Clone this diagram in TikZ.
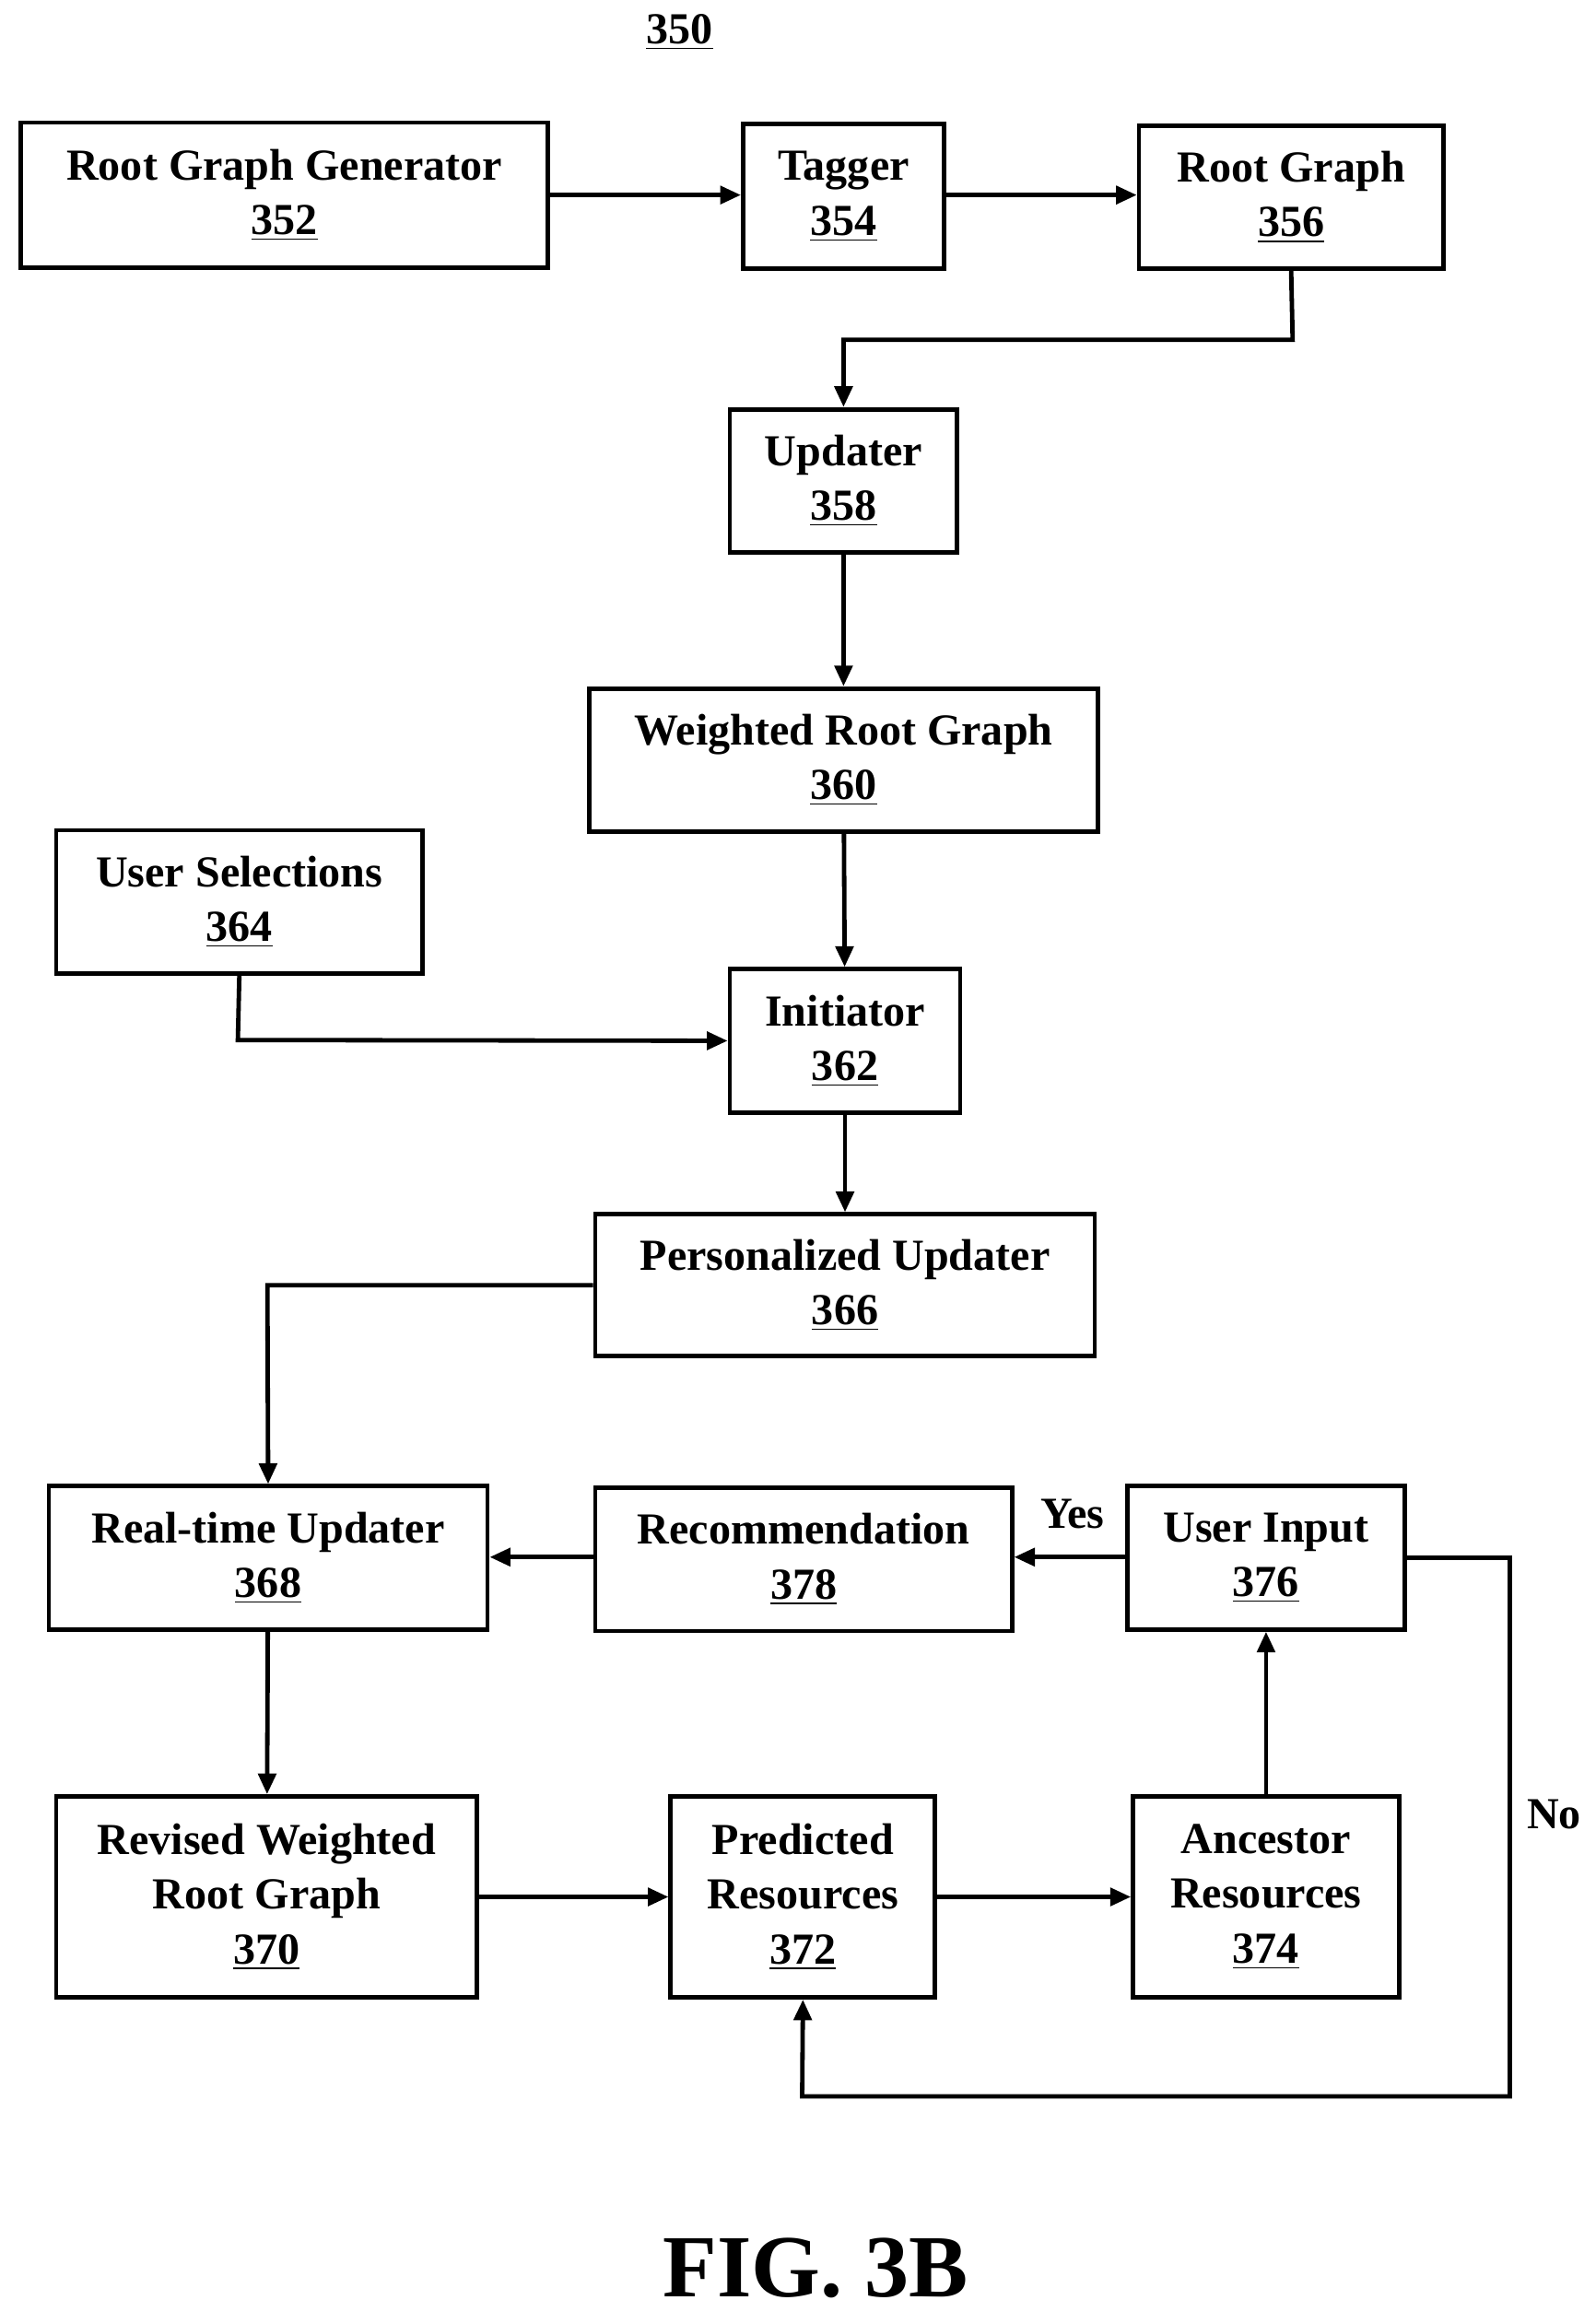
\documentclass[tikz,border=0pt]{standalone}
\usepackage{fontspec}
\setmainfont{Liberation Serif}
\usetikzlibrary{arrows.meta}
\begin{document}
\begin{tikzpicture}[x=0.5pt,y=-0.5pt,
 box/.style={draw,line width=1.5pt,align=center,inner sep=0pt,font=\fontsize{15}{18.5}\selectfont\bfseries},
 arr/.style={line width=1.5pt,-{Triangle[length=7pt,width=6pt]}},
 lab/.style={font=\fontsize{15}{18}\selectfont\bfseries}]
\useasboundingbox (0,0) rectangle (1080,1565);
\newcommand{\bx}[6]{\node[box,minimum width={(#4-#2)*0.5pt},minimum height={(#5-#3)*0.5pt}] (#1) at ({(#2+#4)/2},{(#3+#5)/2}) {#6};}
\bx{n352}{14}{83}{371}{181}{Root Graph Generator\\\underline{352}}
\bx{n354}{503}{84}{639}{182}{Tagger\\\underline{354}}
\bx{n356}{771}{85}{977}{182}{Root Graph\\\underline{356}}
\bx{n358}{494}{277}{648}{374}{Updater\\\underline{358}}
\bx{n360}{399}{466}{743}{563}{Weighted Root Graph\\\underline{360}}
\bx{n364}{38}{562}{286}{659}{User Selections\\\underline{364}}
\bx{n362}{494}{656}{650}{753}{Initiator\\\underline{362}}
\bx{n366}{403}{822}{741}{918}{Personalized Updater\\\underline{366}}
\bx{n368}{33}{1006}{330}{1103}{Real-time Updater\\\underline{368}}
\bx{n378}{403}{1007}{685}{1104}{Recommendation\\\underline{378}}
\bx{n376}{763}{1006}{951}{1103}{User Input\\\underline{376}}
\bx{n370}{38}{1216}{323}{1352}{Revised Weighted\\Root Graph\\\underline{370}}
\bx{n372}{454}{1216}{633}{1352}{Predicted\\Resources\\\underline{372}}
\bx{n374}{767}{1216}{947}{1352}{Ancestor\\Resources\\\underline{374}}
\node[lab] (t350) at (460,22) {\underline{350}};
\node[font=\fontsize{30}{36}\selectfont\bfseries] (fig) at (552,1535) {FIG. 3B};
\node[lab] (yes) at (726,1025) {Yes};
\node[lab] (no) at (1052,1228) {No};
\coordinate (c1) at (1022,1419);
\draw[arr] (n352.east |- 0,132) -- (n354.west |- 0,132);
\draw[arr] (n354.east |- 0,132) -- (n356.west |- 0,132);
\draw[arr] (n356.south) -- (875,230) -- (571,230) -- (n358.north);
\draw[arr] (n358) -- (n360);
\draw[arr] (n360) -- (n362);
\draw[arr] (n364.south) -- (161,704) -- (n362.west);
\draw[arr] (n362) -- (n366);
\draw[arr] (n366.west) -- (181,870) -- (n368.north);
\draw[arr] (n378.west |- 0,1054) -- (n368.east |- 0,1054);
\draw[arr] (n376.west |- 0,1054) -- (n378.east |- 0,1054);
\draw[arr] (n368) -- (n370);
\draw[arr] (n370) -- (n372);
\draw[arr] (n372) -- (n374);
\draw[arr] (n374) -- (n376);
\draw[arr] (n376.east) -- (c1 |- n376.east) -- (c1) -- (543,1419) -- (n372.south);
\end{tikzpicture}
\end{document}
